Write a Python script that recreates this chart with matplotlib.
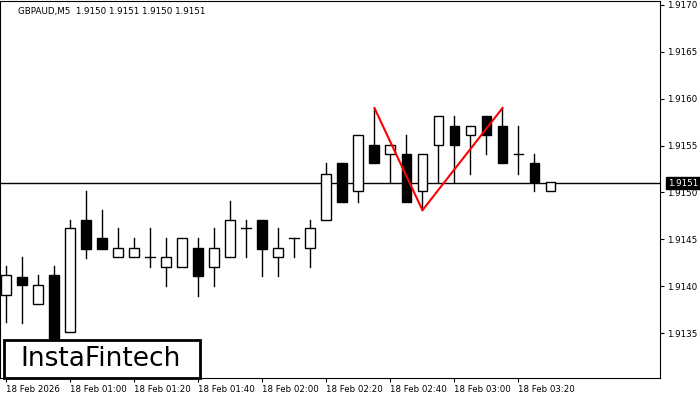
import matplotlib
matplotlib.use("Agg")
import matplotlib.pyplot as plt
from matplotlib.patches import Rectangle

opens  = [1.91391,1.91410,1.91381,1.91412,1.91351,1.91471,1.91451,1.91431,1.91431,1.91431,
          1.91420,1.91420,1.91441,1.91420,1.91431,1.91462,1.91471,1.91431,1.91451,1.91441,
          1.91471,1.91531,1.91501,1.91551,1.91541,1.91541,1.91501,1.91551,1.91571,1.91561,
          1.91581,1.91571,1.91541,1.91531,1.91501]
highs  = [1.91422,1.91431,1.91412,1.91421,1.91471,1.91501,1.91481,1.91462,1.91451,1.91462,
          1.91451,1.91451,1.91451,1.91462,1.91491,1.91471,1.91471,1.91462,1.91451,1.91471,
          1.91531,1.91531,1.91561,1.91590,1.91551,1.91561,1.91541,1.91581,1.91581,1.91571,
          1.91581,1.91590,1.91571,1.91541,1.91511]
lows   = [1.91362,1.91361,1.91381,1.91320,1.91351,1.91430,1.91440,1.91431,1.91431,1.91420,
          1.91400,1.91420,1.91390,1.91400,1.91431,1.91431,1.91411,1.91411,1.91431,1.91420,
          1.91471,1.91490,1.91490,1.91531,1.91511,1.91490,1.91481,1.91511,1.91511,1.91520,
          1.91541,1.91531,1.91520,1.91501,1.91501]
closes = [1.91412,1.91401,1.91401,1.91330,1.91462,1.91440,1.91440,1.91441,1.91441,1.91431,
          1.91431,1.91451,1.91411,1.91441,1.91471,1.91462,1.91440,1.91441,1.91451,1.91462,
          1.91520,1.91490,1.91561,1.91531,1.91551,1.91490,1.91541,1.91581,1.91551,1.91571,
          1.91561,1.91531,1.91541,1.91511,1.91511]
pattern_idx = [23, 26, 31]
pattern_val = [1.91590, 1.91481, 1.91590]
tick_idx = [0, 4, 8, 12, 16, 20, 24, 28, 32]
tick_labels = ["18 Feb 2026", "18 Feb 01:00", "18 Feb 01:20", "18 Feb 01:40", "18 Feb 02:00",
               "18 Feb 02:20", "18 Feb 02:40", "18 Feb 03:00", "18 Feb 03:20"]
yticks = [1.9135, 1.9140, 1.9145, 1.9150, 1.9155, 1.9160, 1.9165, 1.9170]
current = 1.9151

fig = plt.figure(figsize=(7, 4), dpi=100)
ax = fig.add_axes([0.0, 0.055, 0.943, 0.942])
ax.set_xlim(-0.4, 40.85)
ax.set_ylim(1.91302, 1.91704)
w = 0.62
for i, (o, h, l, c) in enumerate(zip(opens, highs, lows, closes)):
    top, bot = max(o, c), min(o, c)
    ax.plot([i, i], [top, h], color="black", lw=1, zorder=2)
    ax.plot([i, i], [l, bot], color="black", lw=1, zorder=2)
    fc = "white" if c >= o else "black"
    if abs(c - o) < 2e-6:
        ax.plot([i - w/2, i + w/2], [o, o], color="black", lw=1, zorder=3)
    else:
        ax.add_patch(Rectangle((i - w/2, bot), w, top - bot, facecolor=fc,
                               edgecolor="black", lw=1, zorder=3))
ax.axhline(current, color="black", lw=1, zorder=1)
ax.plot(pattern_idx, pattern_val, color="red", lw=1.5, zorder=4)

ax.yaxis.tick_right()
ax.set_yticks(yticks)
ax.set_yticklabels([f"{v:.4f}" for v in yticks], fontsize=6.3)
ax.set_xticks(tick_idx)
ax.set_xticklabels(tick_labels, fontsize=6.2, ha="left")
ax.tick_params(length=3, pad=2)
for s in ax.spines.values():
    s.set_color("black")
ax.text(0.027, 0.985, "GBPAUD,M5  1.9150 1.9151 1.9150 1.9151", transform=ax.transAxes,
        fontsize=6.3, va="top", ha="left")
ax.text(1.012, (current - 1.91302) / (1.91704 - 1.91302), f"{current:.4f}", transform=ax.transAxes,
        fontsize=6.3, va="center", ha="left", color="white",
        bbox=dict(boxstyle="square,pad=0.2", fc="black", ec="black"), clip_on=False)
fig.patches.append(Rectangle((4/700, 22/400), 196/700, 38/400, transform=fig.transFigure,
                             facecolor="white", edgecolor="black", lw=2, zorder=6))
fig.text(20/700, 41/400, "InstaFintech", fontsize=19, va="center", ha="left", zorder=7)
fig.savefig("out.png", dpi=100)
